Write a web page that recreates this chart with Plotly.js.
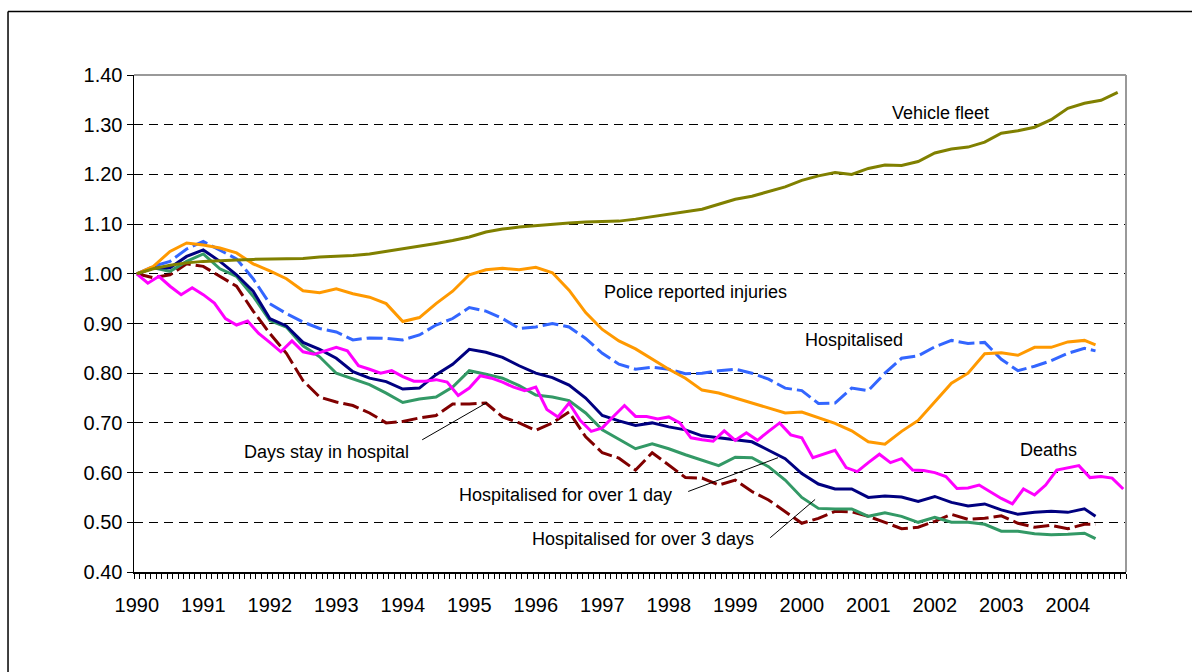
<!DOCTYPE html>
<html>
<head>
<meta charset="utf-8">
<script src="https://cdn.plot.ly/plotly-3.0.1.min.js"></script>
<style>
  html, body { margin: 0; padding: 0; background: #fff; }
  #chart { width: 1192px; height: 672px; }
</style>
</head>
<body>
<div id="chart"></div>
<script>
// Category labels (one per year; months are the categories, Jan 1990 = 0)
const years = ['1990','1991','1992','1993','1994','1995','1996','1997','1998','1999','2000','2001','2002','2003','2004'];
const monthCount = 179;

// Month indices at which values were read
const monthsQ = [];      // every 3 months up to 171, then 173
for (let m = 0; m <= 171; m += 3) monthsQ.push(m);
monthsQ.push(173);
const monthsFleet = [];  // every 3 months up to 174, then 177
for (let m = 0; m <= 174; m += 3) monthsFleet.push(m);
monthsFleet.push(177);
const monthsDeaths = []; // every 2 months
for (let m = 0; m <= 178; m += 2) monthsDeaths.push(m);

// Series values (index, 1990 = 1.00)
const vehicleFleet = [
  1.000,1.010,1.017,1.022,1.025,1.027,1.028,1.029,1.030,1.030,
  1.031,1.034,1.035,1.037,1.040,1.045,1.050,1.055,1.061,1.067,
  1.074,1.084,1.090,1.094,1.097,1.100,1.102,1.104,1.105,1.106,
  1.110,1.115,1.120,1.125,1.130,1.140,1.150,1.156,1.165,1.175,
  1.188,1.197,1.204,1.200,1.212,1.219,1.218,1.226,1.243,1.251,
  1.255,1.265,1.283,1.288,1.295,1.310,1.333,1.343,1.349,1.365
];
const policeInjuries = [
  1.000,1.015,1.045,1.062,1.058,1.052,1.042,1.020,1.006,0.990,
  0.966,0.962,0.970,0.960,0.953,0.940,0.904,0.912,0.940,0.965,
  0.998,1.008,1.011,1.008,1.013,1.002,0.967,0.922,0.888,0.865,
  0.849,0.828,0.808,0.790,0.766,0.760,0.750,0.741,0.730,0.720,
  0.722,0.711,0.699,0.684,0.662,0.657,0.683,0.705,0.742,0.780,
  0.800,0.839,0.841,0.836,0.852,0.852,0.863,0.866,0.857
];
const hospitalised = [
  1.000,1.015,1.025,1.050,1.065,1.048,1.030,0.990,0.940,0.920,
  0.903,0.890,0.883,0.867,0.871,0.870,0.867,0.877,0.897,0.910,
  0.932,0.925,0.910,0.890,0.893,0.900,0.893,0.870,0.840,0.818,
  0.808,0.812,0.808,0.799,0.800,0.805,0.808,0.800,0.788,0.770,
  0.765,0.739,0.740,0.770,0.765,0.800,0.830,0.835,0.853,0.866,
  0.860,0.862,0.828,0.805,0.814,0.825,0.840,0.850,0.845
];
const over1Day = [
  1.000,1.012,1.012,1.035,1.048,1.025,0.998,0.965,0.910,0.895,
  0.862,0.848,0.830,0.803,0.790,0.783,0.768,0.770,0.797,0.818,
  0.848,0.842,0.832,0.815,0.800,0.791,0.776,0.750,0.715,0.704,
  0.695,0.700,0.692,0.686,0.674,0.670,0.667,0.662,0.645,0.628,
  0.598,0.577,0.567,0.567,0.550,0.553,0.551,0.542,0.552,0.540,
  0.533,0.537,0.525,0.516,0.520,0.522,0.520,0.527,0.512
];
const over3Days = [
  1.000,1.012,1.005,1.025,1.040,1.010,0.995,0.955,0.906,0.893,
  0.855,0.833,0.800,0.788,0.777,0.760,0.741,0.748,0.752,0.772,
  0.805,0.798,0.790,0.775,0.756,0.752,0.745,0.720,0.686,0.667,
  0.648,0.658,0.648,0.636,0.625,0.614,0.631,0.630,0.612,0.585,
  0.550,0.528,0.527,0.527,0.512,0.519,0.512,0.500,0.510,0.500,
  0.500,0.496,0.482,0.482,0.477,0.475,0.476,0.478,0.467
];
const daysStay = [
  1.000,0.992,0.998,1.020,1.015,0.995,0.975,0.925,0.880,0.840,
  0.785,0.752,0.742,0.735,0.720,0.700,0.703,0.710,0.715,0.738,
  0.738,0.740,0.712,0.700,0.685,0.700,0.722,0.672,0.640,0.629,
  0.605,0.640,0.615,0.590,0.589,0.575,0.585,0.562,0.545,0.522,
  0.498,0.508,0.522,0.521,0.512,0.500,0.487,0.490,0.502,0.516,
  0.506,0.508,0.513,0.498,0.490,0.494,0.487,0.496,0.496
];
const deaths = [
  1.000,0.981,0.995,0.975,0.958,0.972,0.958,0.941,0.910,0.897,
  0.905,0.880,0.862,0.843,0.865,0.843,0.838,0.845,0.852,0.845,
  0.815,0.808,0.800,0.805,0.793,0.784,0.784,0.787,0.782,0.755,
  0.770,0.795,0.790,0.782,0.772,0.765,0.772,0.727,0.712,0.740,
  0.705,0.683,0.690,0.713,0.735,0.713,0.713,0.708,0.712,0.700,
  0.670,0.666,0.663,0.684,0.665,0.680,0.665,0.683,0.700,0.676,
  0.670,0.630,0.638,0.645,0.610,0.602,0.620,0.637,0.620,0.628,
  0.605,0.604,0.600,0.592,0.568,0.569,0.575,0.562,0.548,0.537,
  0.567,0.555,0.575,0.605,0.610,0.614,0.590,0.592,0.589,0.567
];

const FONT = 'Liberation Sans, Arial, Helvetica, sans-serif';
const W = 3;

function line(x, y, color, dash, name) {
  return { type: 'scatter', mode: 'lines', x: x, y: y, name: name,
           line: { color: color, width: W, dash: dash || 'solid' }, hoverinfo: 'skip' };
}

const traces = [
  line(monthsQ, daysStay, '#800000', '16px,5px', 'Days stay in hospital'),
  line(monthsQ, over3Days, '#339966', 'solid', 'Hospitalised for over 3 days'),
  line(monthsQ, over1Day, '#000080', 'solid', 'Hospitalised for over 1 day'),
  line(monthsDeaths, deaths, '#FF00FF', 'solid', 'Deaths'),
  line(monthsQ, hospitalised, '#3366FF', '16px,5px', 'Hospitalised'),
  line(monthsQ, policeInjuries, '#FF9900', 'solid', 'Police reported injuries'),
  line(monthsFleet, vehicleFleet, '#808000', 'solid', 'Vehicle fleet')
];

const yearTicks = years.map((y, k) => k * 12);

function label(text, x, y, anchor) {
  return { text: text, x: x, y: y, xref: 'x', yref: 'y', showarrow: false,
           xanchor: anchor || 'left', yanchor: 'middle',
           font: { family: FONT, size: 18, color: '#000' } };
}
function leader(x0, y0, x1, y1) {
  return { type: 'line', xref: 'x', yref: 'y', x0: x0, y0: y0, x1: x1, y1: y1,
           line: { color: '#000', width: 1 } };
}

const layout = {
  width: 1192, height: 672,
  margin: { l: 134, r: 66, t: 75, b: 100 },
  paper_bgcolor: '#fff', plot_bgcolor: '#fff',
  showlegend: false,
  font: { family: FONT, size: 20, color: '#000' },
  xaxis: {
    range: [-0.5, monthCount - 0.5],
    tickmode: 'array', tickvals: yearTicks, ticktext: years,
    ticks: '', showgrid: false, zeroline: false,
    showline: true, linecolor: '#000', linewidth: 1.5,
    ticklabelstandoff: 14,
    tickfont: { family: FONT, size: 20, color: '#000' },
    minor: { tickmode: 'linear', tick0: -0.5, dtick: 1, ticks: 'outside',
             ticklen: 5, tickwidth: 1, tickcolor: '#000', showgrid: false }
  },
  yaxis: {
    range: [0.4, 1.4], tickmode: 'linear', tick0: 0.4, dtick: 0.1, tickformat: '.2f',
    ticks: 'outside', ticklen: 6, tickwidth: 1, tickcolor: '#000',
    showgrid: true, gridcolor: '#000', gridwidth: 1, griddash: '9px,6px',
    zeroline: false, showline: true, linecolor: '#000', linewidth: 1.5,
    tickfont: { family: FONT, size: 20, color: '#000' }
  },
  shapes: [
    // plot-area border (top and right, grey)
    { type: 'line', xref: 'paper', yref: 'paper', x0: 0, x1: 1, y0: 1, y1: 1,
      line: { color: '#999', width: 2 }, layer: 'above' },
    { type: 'line', xref: 'paper', yref: 'paper', x0: 1, x1: 1, y0: 0, y1: 1,
      line: { color: '#999', width: 2 }, layer: 'above' },
    // outer chart frame
    { type: 'line', xref: 'paper', yref: 'paper', x0: -0.127, x1: 1.1, y0: 1.128, y1: 1.128,
      line: { color: '#000', width: 1.5 } },
    { type: 'line', xref: 'paper', yref: 'paper', x0: -0.127, x1: -0.127, y0: -0.25, y1: 1.128,
      line: { color: '#000', width: 1.5 } },
    leader(51.5, 0.666, 63.2, 0.741),
    leader(99.5, 0.562, 115.7, 0.630),
    leader(114.3, 0.469, 122.4, 0.546)
  ],
  annotations: [
    label('Vehicle fleet', 145.1, 1.324, 'center'),
    label('Police reported injuries', 84.0, 0.964),
    label('Hospitalised', 120.2, 0.867),
    label('Deaths', 159.0, 0.646),
    label('Days stay in hospital', 19.0, 0.642),
    label('Hospitalised for over 1 day', 57.8, 0.554),
    label('Hospitalised for over 3 days', 71.0, 0.467)
  ]
};

Plotly.newPlot('chart', traces, layout, { displayModeBar: false, staticPlot: true });
</script>
</body>
</html>
